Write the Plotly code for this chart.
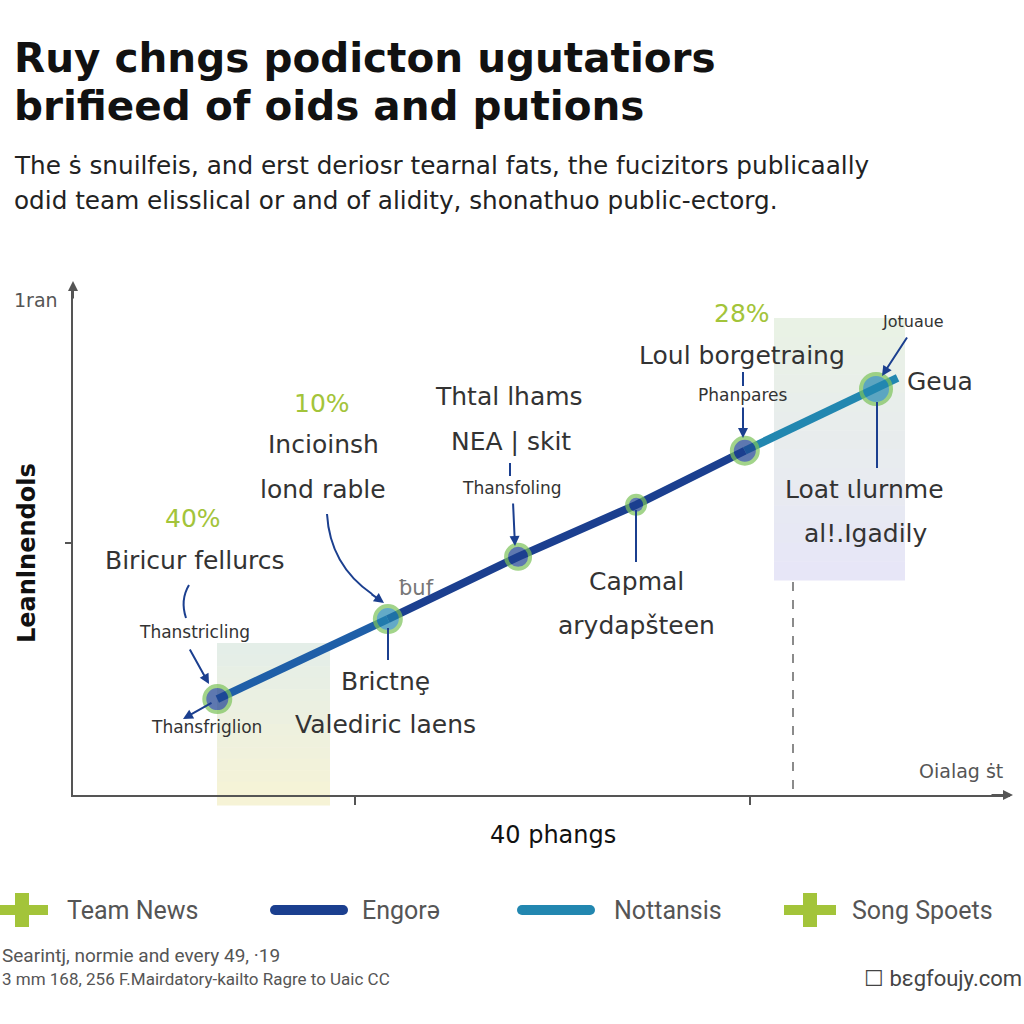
import plotly.graph_objects as go

# ---------------- data ----------------
stage_x = [1.54, 3.36, 4.75, 6.01, 7.17, 8.57]
stage_y = [1.88, 3.45, 4.67, 5.69, 6.75, 7.96]
tail_x = [8.80]
tail_y = [8.18]
legend_names = ["Team News", "Engorə", "Nottansis", "Song Spoets"]
x_tick_vals = [3.01, 7.23]
y_tick_vals = [4.94]

NAVY = "#1b3f8f"
TEAL = "#2287b0"
MID = "#1f5fa8"
GREEN = "#7cc35a"
LGREEN = "#a3c43a"
TXT = "#333333"
GRAY = "#555555"
FONT = "DejaVu Sans, Liberation Sans, sans-serif"

# plot area in pixels: x 73..1010, y 285..795
def PX(px):
    return (px - 73) / 937.0

def PY(py):
    return (795 - py) / 510.0

fig = go.Figure()

# line segments
fig.add_trace(go.Scatter(x=stage_x[0:2], y=stage_y[0:2], mode="lines",
                         line=dict(color=MID, width=8), showlegend=False, hoverinfo="skip"))
fig.add_trace(go.Scatter(x=stage_x[1:5], y=stage_y[1:5], mode="lines", name=legend_names[1],
                         line=dict(color=NAVY, width=8), showlegend=False, hoverinfo="skip"))
fig.add_trace(go.Scatter(x=stage_x[4:6] + tail_x, y=stage_y[4:6] + tail_y, mode="lines",
                         name=legend_names[2], line=dict(color=TEAL, width=8),
                         showlegend=False, hoverinfo="skip"))
# markers
ring_sizes = [26, 26, 24, 18, 26, 30]
core_colors = [NAVY, TEAL, NAVY, NAVY, NAVY, TEAL]
fig.add_trace(go.Scatter(x=stage_x, y=stage_y, mode="markers", name=legend_names[0],
                         marker=dict(size=ring_sizes, color=core_colors,
                                     line=dict(color=GREEN, width=4)),
                         showlegend=False, hoverinfo="skip"))

shapes = []

def gradient_rect(x0, x1, y0, y1, c_top, c_bot, n=14):
    def hx(c):
        return [int(c[i:i + 2], 16) for i in (1, 3, 5)]
    a, b = hx(c_top), hx(c_bot)
    h = (y1 - y0) / n
    for i in range(n):
        t = i / (n - 1)
        col = "rgb(%d,%d,%d)" % tuple(round(a[k] + (b[k] - a[k]) * t) for k in range(3))
        shapes.append(dict(type="rect", xref="paper", yref="paper",
                           x0=PX(x0), x1=PX(x1), y0=PY(y0 + i * h), y1=PY(y0 + (i + 1) * h + 0.5),
                           fillcolor=col, line=dict(width=0), layer="below"))

gradient_rect(217, 330, 643, 805, "#e4eee8", "#f6f3d6")
gradient_rect(774, 905, 318, 580, "#e9f2e5", "#e7e6f7")

# dashed vertical line
shapes.append(dict(type="line", xref="paper", yref="paper", x0=PX(793), x1=PX(793),
                   y0=PY(582), y1=PY(795), line=dict(color="#666", width=1.5, dash="dash")))

# leader lines
for (xp, y0p, y1p) in [(388, 628, 660), (636, 510, 562), (877, 402, 468), (510, 463, 476),
                       (743, 372, 386)]:
    shapes.append(dict(type="line", xref="paper", yref="paper", x0=PX(xp), x1=PX(xp),
                       y0=PY(y0p), y1=PY(y1p), line=dict(color=NAVY, width=2)))

# curved arrow bodies
def curve(p0, c, p1):
    return dict(type="path", xref="paper", yref="paper",
                path="M %f,%f Q %f,%f %f,%f" % (PX(p0[0]), PY(p0[1]), PX(c[0]), PY(c[1]),
                                                  PX(p1[0]), PY(p1[1])),
                line=dict(color=NAVY, width=2))

shapes.append(curve((189, 585), (180, 600), (186, 618)))
shapes.append(curve((327, 514), (330, 565), (372, 594)))

# legend icons
def plus(cx, cy):
    shapes.append(dict(type="rect", xref="paper", yref="paper", x0=PX(cx - 26), x1=PX(cx + 26),
                       y0=PY(cy - 5), y1=PY(cy + 5), fillcolor=LGREEN, line=dict(width=0)))
    shapes.append(dict(type="rect", xref="paper", yref="paper", x0=PX(cx - 7), x1=PX(cx + 7),
                       y0=PY(cy - 17), y1=PY(cy + 17), fillcolor=LGREEN, line=dict(width=0)))

def pill(x0, x1, cy, col):
    shapes.append(dict(type="line", xref="paper", yref="paper", x0=PX(x0 + 5), x1=PX(x1 - 5),
                       y0=PY(cy), y1=PY(cy), line=dict(color=col, width=10)))
    for xc in (x0 + 5, x1 - 5):
        shapes.append(dict(type="circle", xref="paper", yref="paper", x0=PX(xc - 5), x1=PX(xc + 5),
                           y0=PY(cy - 5), y1=PY(cy + 5), fillcolor=col, line=dict(width=0)))

plus(22, 910)
pill(270, 348, 910, NAVY)
pill(517, 595, 910, TEAL)
plus(810, 910)

ann = []

def text(px, py, s, size=25, color=TXT, anchor="center", bold=False, family=FONT, angle=0):
    ann.append(dict(xref="paper", yref="paper", x=PX(px), y=PY(py), text=("<b>%s</b>" % s) if bold else s,
                    showarrow=False, xanchor=anchor, yanchor="middle", textangle=angle,
                    font=dict(size=size, color=color, family=family)))

def arrow(hx, hy, tx, ty, color=NAVY):
    ann.append(dict(xref="paper", yref="paper", x=PX(hx), y=PY(hy), ax=tx - hx, ay=ty - hy,
                    text="", showarrow=True, arrowhead=2, arrowsize=1, arrowwidth=2,
                    arrowcolor=color))

# title + subtitle
text(12, 58, "Ruy chngs podicton ugutatiors", size=40.5, color="#111", anchor="left", bold=True)
text(12, 106, "brifieed of oids and putions", size=40.5, color="#111", anchor="left", bold=True)
text(12, 166, "The ṡ snuilfeis, and erst deriosr tearnal fats, the fucizitors publicaally",
     size=24.7, color="#222", anchor="left")
text(12, 201, "odid team elisslical or and of alidity, shonathuo public-ectorg.",
     size=24.7, color="#222", anchor="left")

# axis decorations
text(12, 300, "1ran", size=19, color=GRAY, anchor="left")
text(27, 553, "Leanlnendols", size=24, color="#111", bold=True, angle=-90)
text(1005, 771, "Oialag ṡt", size=19, color=GRAY, anchor="right")
text(553, 835, "40 phangs", size=24, color="#111")
arrow(73, 281, 73, 300, color=GRAY)
arrow(1013, 795, 990, 795, color=GRAY)

# chart labels
text(193, 518, "40%", size=25, color=LGREEN)
text(195, 560, "Biricur fellurcs")
text(194, 632, "Thanstricling", size=17)
arrow(209, 684, 189, 648)
text(206, 727, "Thansfriglion", size=17)
arrow(183, 719, 213, 702)

text(322, 403, "10%", size=25, color=LGREEN)
text(323, 444, "Incioinsh")
text(323, 489, "lond rable")
arrow(384, 603, 370, 593)
text(416, 588, "ƀuf", size=21, color="#777")
text(385, 681, "Brictnȩ")
text(385, 724, "Valediric laens")

text(509, 396, "Thtal lhams")
text(511, 441, "NEA | skit")
text(512, 488, "Thansfoling", size=17)
arrow(515, 546, 513, 502)

text(636, 581, "Capmal")
text(636, 625, "arydapšteen")

text(742, 313, "28%", size=25, color=LGREEN)
text(742, 355, "Loul borgetraing")
text(743, 395, "Phanpares", size=17)
arrow(743, 438, 743, 406)

text(913, 321, "Jotuaue", size=16)
arrow(882, 376, 908, 336)
text(940, 381, "Geua")
text(864, 489, "Loat ɩlurnme")
text(866, 533, "al!.Igadily")

# legend texts
LF = "Roboto, Liberation Sans, sans-serif"
text(65, 910, legend_names[0], size=25, color="#555", anchor="left", family=LF)
text(360, 910, legend_names[1], size=25, color="#555", anchor="left", family=LF)
text(612, 910, legend_names[2], size=25, color="#555", anchor="left", family=LF)
text(850, 910, legend_names[3], size=25, color="#555", anchor="left", family=LF)

# footer
text(0, 955, "Searintj, normie and every 49, ·19", size=19, color="#555", anchor="left", family=LF)
text(0, 979, "3 mm 168, 256 F.Mairdatory-kailto Ragre to Uaic CC", size=17, color="#555",
     anchor="left", family=LF)
text(1024, 978, "☐ bεgfoujy.com", size=22, color="#444", anchor="right", family=LF)

fig.update_layout(
    width=1024, height=1024, autosize=False,
    margin=dict(l=73, r=14, t=285, b=229),
    paper_bgcolor="white", plot_bgcolor="white",
    showlegend=False,
    shapes=shapes, annotations=ann,
    xaxis=dict(range=[0, 10], showline=True, linecolor=GRAY, linewidth=2, showgrid=False,
               zeroline=False, ticks="outside", tickvals=x_tick_vals, ticktext=["", ""],
               ticklen=8, tickcolor=GRAY, tickwidth=2),
    yaxis=dict(range=[0, 10], showline=True, linecolor=GRAY, linewidth=2, showgrid=False,
               zeroline=False, ticks="outside", tickvals=y_tick_vals, ticktext=[""],
               ticklen=6, tickcolor=GRAY, tickwidth=2),
)

fig.write_html("out.html")
